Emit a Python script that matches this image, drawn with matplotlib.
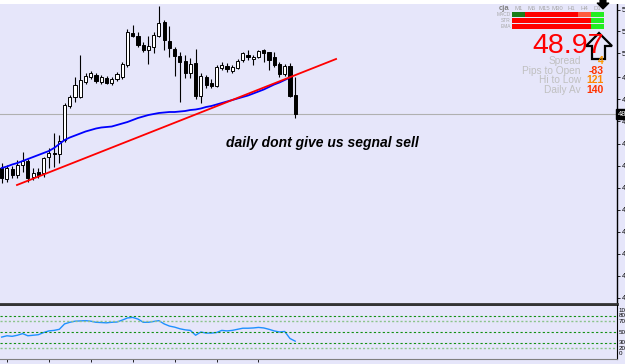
import numpy as np
import matplotlib.pyplot as plt
from matplotlib.patches import Rectangle, Polygon

plt.rcParams['font.family'] = ['Liberation Sans', 'DejaVu Sans']

# H1 candles
opens = [47.89, 47.67, 47.87, 47.75, 47.95, 48.03, 47.71, 47.81, 47.79, 48.11,
         48.19, 48.17, 48.45, 49.13, 49.31, 49.31, 49.61, 49.71, 49.75, 49.61,
         49.69, 49.59, 49.67, 49.71, 49.95, 50.59, 50.53, 50.35, 50.25, 50.31,
         50.53, 50.81, 50.43, 50.27, 50.13, 50.03, 49.79, 49.99, 49.33, 49.71,
         49.59, 49.53, 49.89, 49.93, 49.83, 49.89, 50.05, 50.15, 50.07, 50.11,
         50.25, 50.21, 50.11, 49.97, 49.77, 49.93, 49.35]
highs = [47.99, 47.95, 47.93, 48.05, 48.21, 48.07, 47.89, 47.89, 48.11, 48.29,
         48.59, 48.55, 49.19, 49.35, 49.71, 50.15, 49.79, 49.83, 49.79, 49.75,
         49.73, 49.71, 49.81, 50.01, 50.67, 50.75, 50.61, 50.41, 50.53, 50.61,
         51.13, 50.85, 50.73, 50.31, 50.21, 50.15, 50.09, 50.27, 49.79, 49.75,
         49.67, 49.95, 50.01, 49.99, 49.95, 50.07, 50.21, 50.25, 50.15, 50.25,
         50.27, 50.21, 50.21, 50.01, 49.97, 49.99, 49.71]
lows = [47.59, 47.61, 47.69, 47.69, 47.81, 47.61, 47.65, 47.69, 47.71, 47.89,
        47.91, 47.99, 48.41, 49.09, 49.21, 49.29, 49.57, 49.67, 49.59, 49.57,
        49.57, 49.55, 49.63, 49.67, 49.91, 50.51, 50.31, 50.21, 49.97, 50.19,
        50.51, 50.25, 50.11, 49.73, 49.21, 49.69, 49.69, 49.27, 49.19, 49.49,
        49.49, 49.51, 49.85, 49.81, 49.79, 49.87, 50.01, 50.05, 49.95, 50.09,
        50.01, 49.85, 49.91, 49.71, 49.73, 49.31, 48.89]
closes = [47.69, 47.89, 47.75, 47.95, 48.03, 47.69, 47.79, 47.75, 48.09, 48.19,
          48.17, 48.43, 49.15, 49.31, 49.55, 49.65, 49.73, 49.79, 49.63, 49.71,
          49.59, 49.67, 49.77, 49.97, 50.61, 50.53, 50.35, 50.25, 50.33, 50.55,
          50.79, 50.45, 50.29, 50.13, 50.01, 49.79, 49.97, 49.33, 49.73, 49.55,
          49.53, 49.91, 49.95, 49.87, 49.91, 50.03, 50.19, 50.11, 50.11, 50.23,
          50.19, 50.05, 49.95, 49.77, 49.93, 49.33, 48.97]

# moving average (blue)
ma = [47.89, 47.92, 47.96, 47.99, 48.03, 48.07, 48.11, 48.15, 48.19, 48.23,
      48.29, 48.37, 48.45, 48.50, 48.54, 48.58, 48.62, 48.65, 48.68, 48.70,
      48.71, 48.72, 48.75, 48.78, 48.81, 48.85, 48.89, 48.92, 48.95, 48.97,
      48.99, 49.00, 49.01, 49.01, 49.02, 49.03, 49.05, 49.06, 49.08, 49.11,
      49.13, 49.16, 49.19, 49.22, 49.25, 49.28, 49.31, 49.34, 49.38, 49.42,
      49.46, 49.51, 49.56, 49.60, 49.65, 49.70]

# oscillator in lower window
rsi = [40.6, 43, 42, 44, 47, 43, 44, 45, 49, 52,
       53, 55, 65, 68, 70, 70.5, 71, 70, 68, 67.5,
       67, 68, 68.5, 72, 76, 77, 74, 68, 68, 69.5,
       71, 65, 61, 59, 56, 54, 53, 44, 50, 48,
       48, 49, 53, 52, 53, 55, 57, 57, 57.5, 58.5,
       57.5, 55, 52, 50, 51, 38, 33]
rsi_levels = [80, 70, 50, 30, 20]
rsi_labels = ['100', '80', '70', '50', '30', '20', '0']
rsi_label_pos = [90.7, 80, 70, 50, 30, 20, 9.3]

# trend line (bar index, price)
trend_x = [2.92, 63.8]
trend_y = [47.55, 50.07]

current_price = 48.97
price_ticks = [51.05, 50.63, 50.19, 49.71, 49.27, 48.83, 48.37, 47.93,
               47.49, 47.05, 46.61, 46.17, 45.73, 45.29]
time_ticks = [1, 9, 17, 25, 33, 41, 49]
time_labels = ['9 Oct 05:00', '9 Oct 13:00', '9 Oct 21:00', '10 Oct 05:00',
               '10 Oct 13:00', '10 Oct 21:00', '11 Oct 05:00']

# signal panel
timeframes = ['M1', 'M5', 'M15', 'M30', 'H1', 'H4', 'D1']
sig_rows = ['MACD', 'STR', 'EMA']
sig_colors = [['#1a7d1a', '#ff0000', '#ff0000', '#ff0000', '#ff0000', '#ff5a40', '#22ee22'],
              ['#ff0000', '#ff0000', '#ff0000', '#ff0000', '#ff0000', '#ff0000', '#22ee22'],
              ['#ff0000', '#ff0000', '#ff0000', '#ff0000', '#ff0000', '#ff0000', '#22ee22']]
info_labels = ['Spread', 'Pips to Open', 'Hi to Low', 'Daily Av']
info_values = ['4', '-83', '121', '140']
info_colors = ['#ff9900', '#ff3300', '#ff8800', '#ff3300']

bg = '#e6e6fa'
W, H = 625, 364
fig = plt.figure(figsize=(6.25, 3.64), dpi=100, facecolor=bg)

ax = fig.add_axes([0, (H - 304) / H, 617 / W, 300 / H], facecolor=bg)
ax2 = fig.add_axes([0, (H - 359) / H, 617 / W, 54 / H], facecolor=bg)

idx = np.arange(len(opens))
o = np.array(opens); c = np.array(closes)
up = c >= o
ax.vlines(idx, lows, highs, color='black', lw=0.8, zorder=2)
body_lo = np.minimum(o, c)
body_h = np.maximum(np.abs(c - o), 0.02)
ax.bar(idx[up], body_h[up], bottom=body_lo[up], width=0.6,
       color='white', edgecolor='black', lw=0.7, zorder=3)
ax.bar(idx[~up], body_h[~up], bottom=body_lo[~up], width=0.6,
       color='black', edgecolor='black', lw=0.7, zorder=3)

ax.plot(np.arange(len(ma)), ma, color='#0000ff', lw=1.3, zorder=4)
ax.plot(trend_x, trend_y, color='#ff0000', lw=1.3, zorder=5)
ax.axhline(current_price, color='#b0b0b0', lw=0.8, zorder=1)

ax.text(42.8, 48.40, 'daily dont give us segnal sell', fontsize=10,
        fontweight='bold', fontstyle='italic', va='center', ha='left')

ax.set_xlim(-0.32, 117.4)
ax.set_ylim(45.17, 51.17)
ax.yaxis.tick_right()
ax.set_yticks(price_ticks)
ax.set_yticklabels(['%.2f' % v for v in price_ticks], fontsize=5.5)
ax.tick_params(axis='y', direction='out', length=2.5, width=0.6, pad=1)
ax.set_xticks([])
for s in ['left', 'top']:
    ax.spines[s].set_visible(False)
ax.spines['right'].set_linewidth(1)
ax.spines['bottom'].set_linewidth(2)
ax.spines['bottom'].set_color('#333333')
ax.text(1.001, (current_price - 45.17) / 6.0, '%.2f' % current_price,
        transform=ax.transAxes, fontsize=5.5, color='white', va='center',
        ha='left', bbox=dict(facecolor='black', edgecolor='black', pad=1.2))

# lower window
ax2.plot(np.arange(len(rsi)), rsi, color='#1e90ff', lw=1.0)
for lv in rsi_levels:
    if lv in (70, 20):
        ax2.axhline(lv, color='#8cc48c', lw=1.0, ls=(0, (1.5, 1.5)))
    else:
        ax2.axhline(lv, color='#139013', lw=0.8, ls=(0, (2, 2)))
ax2.set_xlim(-0.32, 117.4)
ax2.set_ylim(0, 100)
ax2.set_yticks([])
for lab, pos in zip(rsi_labels, rsi_label_pos):
    ax2.text(1.003, pos / 100, lab, transform=ax2.transAxes, fontsize=4.5,
             va='center', ha='left')
ax2.set_xticks(time_ticks)
ax2.set_xticklabels(time_labels, fontsize=5.5, ha='left')
ax2.tick_params(axis='x', direction='out', length=2.5, width=0.6, pad=1)
for s in ['left', 'top']:
    ax2.spines[s].set_visible(False)
ax2.spines['bottom'].set_color('#808080')

# overlay in pixel coordinates
ov = fig.add_axes([0, 0, 1, 1], facecolor='none')
ov.set_xlim(0, W)
ov.set_ylim(H, 0)
ov.axis('off')
ov.add_patch(Rectangle((0, 0), W, 4, facecolor='white', edgecolor='none'))
ov.add_patch(Rectangle((0, 304), 617, 2, facecolor='#333333', edgecolor='none'))

ov.text(509, 9.5, 'cja', fontsize=5.5, fontweight='bold', color='#808080', ha='right')
for j, tf in enumerate(timeframes):
    ov.text(518.5 + 13.1 * j, 9.5, tf, fontsize=4.3, color='#a8a8a8', ha='center')
for r, name in enumerate(sig_rows):
    y0 = 12.3 + 6 * r
    ov.text(511, y0 + 2.3, name, fontsize=3.5, color='#a8a8a8', ha='right', va='center')
    for j in range(len(timeframes)):
        ov.add_patch(Rectangle((512 + 13.1 * j, y0), 13.2, 4.6,
                               facecolor=sig_colors[r][j], edgecolor='none'))

ov.text(604, 53, '48.97', fontsize=20.5, color='#ff0000', ha='right', va='baseline')
ov.add_patch(Polygon([(599, 33), (612, 46), (605, 46), (605, 59), (592, 59),
                      (592, 46), (586, 46)], closed=True, facecolor=bg,
                     edgecolor='black', lw=1.6))
ov.add_patch(Polygon([(600, 0), (606, 0), (606, 3), (609, 3), (603, 9),
                      (597, 3), (600, 3)], closed=True, facecolor='black',
                     edgecolor='black', lw=0.8))

for k, (lab, val, col) in enumerate(zip(info_labels, info_values, info_colors)):
    yb = 64 + 9.7 * k
    ov.text(581, yb, lab, fontsize=7.3, color='#c0c0c0', ha='right', va='baseline')
    ov.text(604, yb, val, fontsize=7.5, color=col, fontweight='bold',
            ha='right', va='baseline')

fig.savefig('out.png', dpi=100, facecolor=bg)
